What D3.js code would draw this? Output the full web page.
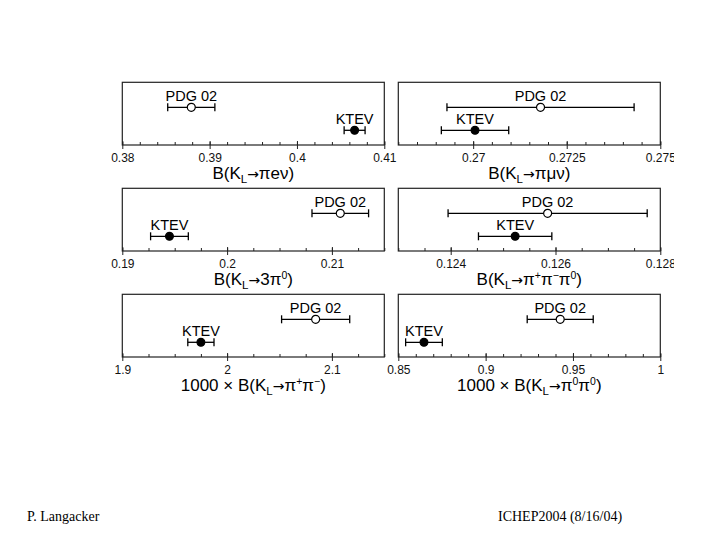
<!DOCTYPE html>
<html>
<head>
<meta charset="utf-8">
<script src="https://cdn.jsdelivr.net/npm/d3@7"></script>
<style>
  body { margin: 0; background: #fff; }
  svg { display: block; }
</style>
</head>
<body>
<div id="chart"></div>
<script>
// one entry per panel, left-right then top-bottom
var titles = [
  "B(K_{L}→πeν)",
  "B(K_{L}→πμν)",
  "B(K_{L}→3π^{0})",
  "B(K_{L}→π^{+}π^{−}π^{0})",
  "1000 × B(K_{L}→π^{+}π^{−})",
  "1000 × B(K_{L}→π^{0}π^{0})"
];
var domains = [[0.38, 0.41], [0.268, 0.275], [0.19, 0.215], [0.123, 0.128], [1.9, 2.15], [0.85, 1]];
var majorTicks = [
  [0.38, 0.39, 0.4, 0.41],
  [0.27, 0.2725, 0.275],
  [0.19, 0.2, 0.21],
  [0.124, 0.126, 0.128],
  [1.9, 2, 2.1],
  [0.85, 0.9, 0.95, 1]
];
var minorStep = [0.002, 0.0005, 0.0025, 0.0005, 0.025, 0.01];

var sources = ["PDG 02", "KTEV"];
var pdgVal = [0.3879, 0.2718, 0.2108, 0.12585, 2.0845, 0.9427];
var pdgErr = [0.0027, 0.0025, 0.0027, 0.0019, 0.0325, 0.0189];
var ktevVal = [0.4066, 0.27005, 0.1945, 0.12523, 1.975, 0.8647];
var ktevErr = [0.0012, 0.0009, 0.0018, 0.0007, 0.0125, 0.0105];

var W = 720, H = 540;
var colX = [122.3, 398.3], rowY = [82.3, 188.3, 294.3];
var pw = 262, ph = 62.7;
var sans = "'Liberation Sans', Arial, Helvetica, sans-serif";

var svg = d3.select("#chart").append("svg")
  .attr("width", W)
  .attr("height", H);

svg.append("clipPath").attr("id", "cut")
  .append("rect").attr("x", 0).attr("y", 0).attr("width", 674).attr("height", H);

var root = svg.append("g").attr("clip-path", "url(#cut)");

var y = d3.scalePoint().domain(sources).range([25, 48]);

// small parser for _{sub} and ^{sup}, arrow gets its own tspan
function richText(sel, str) {
  var re = /([_^])\{([^}]*)\}|(→)|([^_^→]+)/g, m, prev = 0;
  while ((m = re.exec(str)) !== null) {
    var shift = 0, size = null, txt = m[4], fam = null;
    if (m[1]) {
      txt = m[2];
      shift = m[1] == "_" ? 4 : -6;
      size = m[1] == "_" ? "11.5px" : "10.5px";
    } else if (m[3]) {
      txt = m[3];
      size = "14px";
      fam = "'DejaVu Sans', sans-serif";
    }
    var t = sel.append("tspan").attr("dy", shift - prev).text(txt);
    if (size) t.style("font-size", size);
    if (fam) t.style("font-family", fam);
    prev = shift;
  }
}

for (var i = 0; i < 6; i++) {
  var col = i % 2, row = Math.floor(i / 2);
  var g = root.append("g")
    .attr("transform", "translate(" + [colX[col], rowY[row]] + ")");

  var x = d3.scaleLinear().domain(domains[i]).range([0, pw]);

  g.append("rect")
    .attr("width", pw)
    .attr("height", ph)
    .attr("fill", "none")
    .attr("stroke", "#222")
    .attr("stroke-width", 1.2);

  // minor ticks, pointing up into the box
  var d0 = domains[i][0], d1 = domains[i][1];
  var minors = d3.range(0, Math.round((d1 - d0) / minorStep[i]) + 1)
    .map(function(k) { return d0 + k * minorStep[i]; });
  var minorAxis = g.append("g")
    .attr("transform", "translate(0," + ph + ")")
    .call(d3.axisBottom(x).tickValues(minors).tickSize(-3).tickFormat(""));
  minorAxis.select(".domain").remove();
  minorAxis.selectAll("line").attr("stroke", "#222");

  // major ticks with labels
  var majorAxis = g.append("g")
    .attr("transform", "translate(0," + ph + ")")
    .call(d3.axisBottom(x).tickValues(majorTicks[i]).tickSize(4).tickPadding(4.5)
      .tickFormat(function(d) { return String(d); }));
  majorAxis.select(".domain").remove();
  majorAxis.selectAll("line").attr("y1", -4).attr("stroke", "#222");
  majorAxis.selectAll("text")
    .style("font-family", sans)
    .style("font-size", "12px")
    .attr("fill", "#111");

  var title = g.append("text")
    .attr("x", pw / 2)
    .attr("y", ph + 34)
    .attr("text-anchor", "middle")
    .style("font-family", sans)
    .style("font-size", "17px")
    .attr("fill", "#000");
  richText(title, titles[i]);

  var pts = [
    {name: sources[0], v: pdgVal[i], e: pdgErr[i], open: true},
    {name: sources[1], v: ktevVal[i], e: ktevErr[i], open: false}
  ];

  var pt = g.selectAll("g.pt").data(pts).enter().append("g")
    .attr("class", "pt")
    .attr("transform", function(d) { return "translate(0," + y(d.name) + ")"; });

  pt.append("line")
    .attr("x1", function(d) { return x(d.v - d.e); })
    .attr("x2", function(d) { return x(d.v + d.e); })
    .attr("stroke", "#000").attr("stroke-width", 1.3);
  pt.append("line")
    .attr("x1", function(d) { return x(d.v - d.e); })
    .attr("x2", function(d) { return x(d.v - d.e); })
    .attr("y1", -4).attr("y2", 4)
    .attr("stroke", "#000").attr("stroke-width", 1.3);
  pt.append("line")
    .attr("x1", function(d) { return x(d.v + d.e); })
    .attr("x2", function(d) { return x(d.v + d.e); })
    .attr("y1", -4).attr("y2", 4)
    .attr("stroke", "#000").attr("stroke-width", 1.3);
  pt.append("circle")
    .attr("cx", function(d) { return x(d.v); })
    .attr("r", function(d) { return d.open ? 4 : 3.9; })
    .attr("fill", function(d) { return d.open ? "#fff" : "#000"; })
    .attr("stroke", "#000").attr("stroke-width", 1.2);
  pt.append("text")
    .attr("x", function(d) { return x(d.v); })
    .attr("y", -6)
    .attr("text-anchor", "middle")
    .style("font-family", sans)
    .style("font-size", "14.5px")
    .text(function(d) { return d.name; });
}

// footer
svg.append("text")
  .attr("x", 27).attr("y", 521)
  .style("font-family", "'Liberation Serif', 'Times New Roman', serif")
  .style("font-size", "14px")
  .text("P. Langacker");
svg.append("text")
  .attr("x", 498).attr("y", 521)
  .style("font-family", "'Liberation Serif', 'Times New Roman', serif")
  .style("font-size", "14px")
  .text("ICHEP2004 (8/16/04)");
</script>
</body>
</html>
